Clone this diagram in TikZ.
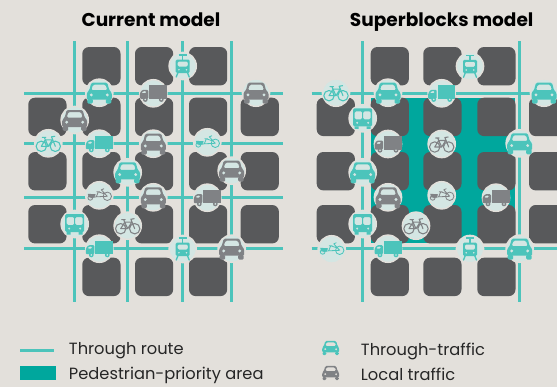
\documentclass[tikz,border=0pt]{standalone}
\usepackage{fontspec}
\setmainfont{Poppins}
\definecolor{paper}{HTML}{E3E0DB}
\definecolor{thru}{HTML}{4CC4BB}
\definecolor{priority}{HTML}{00A79D}
\definecolor{blockgrey}{HTML}{58595B}
\definecolor{localgrey}{HTML}{808285}
\definecolor{discfill}{HTML}{D4E6E3}
\tikzset{
  disc/.style = {circle, fill=discfill, draw=paper, line width=1pt,
                 minimum size=20.5pt, inner sep=0pt, outer sep=0pt},
  road/.style = {color=thru, line width=2pt},
  block/.style = {fill=blockgrey, rounded corners=5pt},
  title/.style = {anchor=base, inner sep=0pt, font=\bfseries\fontsize{13.9}{16}\selectfont},
  legend/.style = {anchor=base west, inner sep=0pt, text=black!85, font=\fontsize{12.2}{14}\selectfont},
  car/.pic = {
    \fill[#1, even odd rule, rounded corners=1pt]
      (-12.5,7) -- (-12.5,0) -- (-10,-2.5) -- (-8,-10) -- (8,-10) -- (10,-2.5) -- (12.5,0) -- (12.5,7) -- cycle
      (-6.3,-8) -- (6.3,-8) -- (8,-2.5) -- (-8,-2.5) -- cycle
      (-8,2.2) circle (1.8) (8,2.2) circle (1.8);
    \fill[#1, rounded corners=1pt] (-12,6) rectangle (-6.5,11) (6.5,6) rectangle (12,11);
  },
  truck/.pic = {
    \fill[#1] (-4,-8) rectangle (13.5,5.5);
    \fill[#1, even odd rule, rounded corners=0.8pt]
      (-5,5.5) -- (-13.5,5.5) -- (-13.5,0) -- (-11,-3.5) -- (-5,-3.5) -- cycle
      (-12,-0.2) -- (-10.2,-2.2) -- (-7,-2.2) -- (-7,-0.2) -- cycle;
    \fill[#1] (-8,6.2) circle (2.4) (8,6.2) circle (2.4);
    \fill[discfill] (-8,6.2) circle (0.9) (8,6.2) circle (0.9);
  },
  bike/.pic = {
    \draw[#1, line width=0.8pt, line join=round, line cap=round]
      (-7,3) circle (5.2) (7,3) circle (5.2)
      (-7,3) -- (-3,-3.5) -- (4,-3.5) -- (0,3) -- (-7,3)
      (-3,-3.5) -- (0,3)
      (7,3) -- (3.2,-6.5) -- (6.5,-7)
      (-3,-3.5) -- (-4,-6) (-6,-6) -- (-2.5,-6);
  },
  cargo/.pic = {
    \draw[#1, line width=0.6pt, line join=round, line cap=round]
      (-9,2.5) circle (2.4) (8,1) circle (4.2)
      (-9,2.5) -- (-3,1.5) -- (8,1) -- (2,-5.5) -- (4.5,-6.5)
      (-3,1.5) -- (-1,-3.5) (-2.5,-3.5) -- (0.5,-3.5)
      (-1,-3.5) -- (5,-1.5);
    \fill[#1] (-11.5,-1.5) -- (-3.5,-1) -- (-5,2) -- (-10.5,2) -- cycle;
  },
  tram/.pic = {
    \draw[#1, line width=0.8pt] (-4,-11) -- (4,-11) (0,-11) -- (0,-6);
    \draw[#1, line width=1pt, line cap=round] (-4.5,6) -- (-6.5,11) (4.5,6) -- (6.5,11);
    \fill[#1, even odd rule, rounded corners=1pt]
      (-7,-6.5) rectangle (7,7)
      (-5.2,-4.5) rectangle (5.2,0.5)
      (-3.8,3.7) circle (1.1) (3.8,3.7) circle (1.1);
  },
  bus/.pic = {
    \fill[#1, even odd rule, rounded corners=1pt]
      (-9.5,-10) rectangle (9.5,8)
      (-8,-7) rectangle (-0.5,1)
      (0.5,-7) rectangle (8,1)
      (-5.5,4.5) circle (1.3) (5.5,4.5) circle (1.3);
    \fill[#1] (-8,8) rectangle (-4,10.5) (4,8) rectangle (8,10.5);
  }
}
\begin{document}
\begin{tikzpicture}[x=0.75pt,y=-0.75pt]
	\def \bw{38.2}
	\def \bh{38.4}
	\useasboundingbox (0,0) rectangle (557,387);
	\clip (0,0) rectangle (557,387);
	\fill[paper] (0,0) rectangle (557,387);

	% Titles
	\node[title] (current) at (151,26.5) {Current model};
	\node[title] (super) at (441.7,26.5) {Superblocks model};

	% Priority area
	\fill[priority] (370.7,97.7) rectangle (515.3,243);

	% Current model: blocks
	\fill[block] (82.3,47) rectangle ++(\bw,\bh) (135,47) rectangle ++(\bw,\bh) (189,47) rectangle ++(\bw,\bh);
	\fill[block] (28.3,97.7) rectangle ++(\bw,\bh) (82.3,97.7) rectangle ++(\bw,\bh) (135,97.7) rectangle ++(\bw,\bh) (189,97.7) rectangle ++(\bw,\bh) (240.7,97.7) rectangle ++(\bw,\bh);
	\fill[block] (28.3,152) rectangle ++(\bw,\bh) (82.3,152) rectangle ++(\bw,\bh) (135,152) rectangle ++(\bw,\bh) (189,152) rectangle ++(\bw,\bh) (240.7,152) rectangle ++(\bw,\bh);
	\fill[block] (28.3,205) rectangle ++(\bw,\bh) (82.3,205) rectangle ++(\bw,\bh) (135,205) rectangle ++(\bw,\bh) (189,205) rectangle ++(\bw,\bh) (240.7,205) rectangle ++(\bw,\bh);
	\fill[block] (82.3,257.7) rectangle ++(\bw,\bh) (135,257.7) rectangle ++(\bw,\bh) (189,257.7) rectangle ++(\bw,\bh);

	% Superblocks model: blocks
	\fill[block] (370.7,47) rectangle ++(\bw,\bh) (423.3,47) rectangle ++(\bw,\bh) (477.3,47) rectangle ++(\bw,\bh);
	\fill[block] (316.7,97.7) rectangle ++(\bw,\bh) (370.7,97.7) rectangle ++(\bw,\bh) (423.3,97.7) rectangle ++(\bw,\bh) (477.3,97.7) rectangle ++(\bw,\bh) (529,97.7) rectangle ++(\bw,\bh);
	\fill[block] (316.7,152) rectangle ++(\bw,\bh) (370.7,152) rectangle ++(\bw,\bh) (423.3,152) rectangle ++(\bw,\bh) (477.3,152) rectangle ++(\bw,\bh) (529,152) rectangle ++(\bw,\bh);
	\fill[block] (316.7,205) rectangle ++(\bw,\bh) (370.7,205) rectangle ++(\bw,\bh) (423.3,205) rectangle ++(\bw,\bh) (477.3,205) rectangle ++(\bw,\bh) (529,205) rectangle ++(\bw,\bh);
	\fill[block] (370.7,257.7) rectangle ++(\bw,\bh) (423.3,257.7) rectangle ++(\bw,\bh) (477.3,257.7) rectangle ++(\bw,\bh);

	% Current model: roads
	\draw[road] (74.7,41) -- (74.7,301.7);
	\draw[road] (127.7,41) -- (127.7,301.7);
	\draw[road] (182.7,41) -- (182.7,301.7);
	\draw[road] (231.7,41) -- (231.7,301.7);
	\draw[road] (24,93.7) -- (283,93.7);
	\draw[road] (24,143.7) -- (283,143.7);
	\draw[road] (24,197.3) -- (283,197.3);
	\draw[road] (24,248.7) -- (283,248.7);

	% Superblocks model: roads
	\draw[road] (362.7,41) -- (362.7,301.7);
	\draw[road] (519.7,41) -- (519.7,301.7);
	\draw[road] (311.7,93.7) -- (557,93.7);
	\draw[road] (311.7,248.7) -- (557,248.7);

	% Current model: vehicles
	\node[disc] (a1) at (182.7,66) {};      \pic at (a1) {tram=thru};
	\node[disc] (a2) at (99.3,92.7) {};     \pic at (a2) {car=thru};
	\node[disc] (a3) at (153.3,93.3) {};    \pic at (a3) {truck=localgrey};
	\node[disc] (a4) at (256,92.7) {};      \pic at (a4) {car=localgrey};
	\node[disc] (a5) at (74.7,120) {};      \pic at (a5) {car=localgrey};
	\node[disc] (a6) at (48.3,143.3) {};    \pic at (a6) {bike=thru};
	\node[disc] (a7) at (99.3,143.7) {};    \pic at (a7) {truck=thru};
	\node[disc] (a8) at (153.3,143.7) {};   \pic at (a8) {car=localgrey};
	\node[disc] (a9) at (207.3,142.3) {};   \pic at (a9) {cargo=thru};
	\node[disc] (a10) at (127.7,172.3) {};  \pic at (a10) {car=thru};
	\node[disc] (a11) at (231.7,170.7) {};  \pic at (a11) {car=localgrey};
	\node[disc] (a12) at (99.3,195.3) {};   \pic at (a12) {cargo=localgrey};
	\node[disc] (a13) at (153.3,197.3) {};  \pic at (a13) {car=localgrey};
	\node[disc] (a14) at (207.3,197.7) {};  \pic at (a14) {truck=localgrey};
	\node[disc] (a15) at (74.7,224) {};     \pic at (a15) {bus=thru};
	\node[disc] (a16) at (127.7,225.7) {};  \pic at (a16) {bike=localgrey};
	\node[disc] (a17) at (99.3,248.7) {};   \pic at (a17) {truck=thru};
	\node[disc] (a18) at (182.7,249) {};    \pic at (a18) {tram=thru};
	\node[disc] (a19) at (231.7,248.7) {};  \pic at (a19) {car=localgrey};

	% Superblocks model: vehicles
	\node[disc] (b1) at (470,66.3) {};      \pic at (b1) {tram=thru};
	\node[disc] (b2) at (336,92.7) {};      \pic at (b2) {bike=thru};
	\node[disc] (b3) at (388,92.7) {};      \pic at (b3) {car=thru};
	\node[disc] (b4) at (441.7,93.3) {};    \pic at (b4) {truck=thru};
	\node[disc] (b5) at (544,92.7) {};      \pic at (b5) {car=thru};
	\node[disc] (b6) at (362.7,118.3) {};   \pic at (b6) {bus=thru};
	\node[disc] (b7) at (388,144) {};       \pic at (b7) {truck=localgrey};
	\node[disc] (b8) at (441.7,144) {};     \pic at (b8) {bike=localgrey};
	\node[disc] (b9) at (519.7,143.3) {};   \pic at (b9) {car=thru};
	\node[disc] (b10) at (362.7,172.3) {};  \pic at (b10) {car=thru};
	\node[disc] (b11) at (388,197.3) {};    \pic at (b11) {car=localgrey};
	\node[disc] (b12) at (441.7,195.3) {};  \pic at (b12) {cargo=localgrey};
	\node[disc] (b13) at (496,197.7) {};    \pic at (b13) {truck=localgrey};
	\node[disc] (b14) at (362.7,224) {};    \pic at (b14) {bus=thru};
	\node[disc] (b15) at (416,225.7) {};    \pic at (b15) {bike=localgrey};
	\node[disc] (b16) at (331.7,249.3) {};  \pic at (b16) {cargo=thru};
	\node[disc] (b17) at (388,248.7) {};    \pic at (b17) {truck=thru};
	\node[disc] (b18) at (470,249) {};      \pic at (b18) {tram=thru};
	\node[disc] (b19) at (519.7,248.7) {};  \pic at (b19) {car=thru};

	% Legend
	\draw[road] (20,350.7) -- (54.3,350.7);
	\fill[priority] (20,366) rectangle (55.5,380);
	\node[legend] (lroute) at (68.7,354) {Through route};
	\node[legend] (larea) at (68.7,379) {Pedestrian-priority area};
	\pic[scale=0.68] at (330.7,347.7) {car=thru};
	\pic[scale=0.68] at (330.7,372.7) {car=localgrey};
	\node[legend] (lthru) at (360.7,355) {Through-traffic};
	\node[legend] (llocal) at (360.7,380) {Local traffic};
\end{tikzpicture}
\end{document}
